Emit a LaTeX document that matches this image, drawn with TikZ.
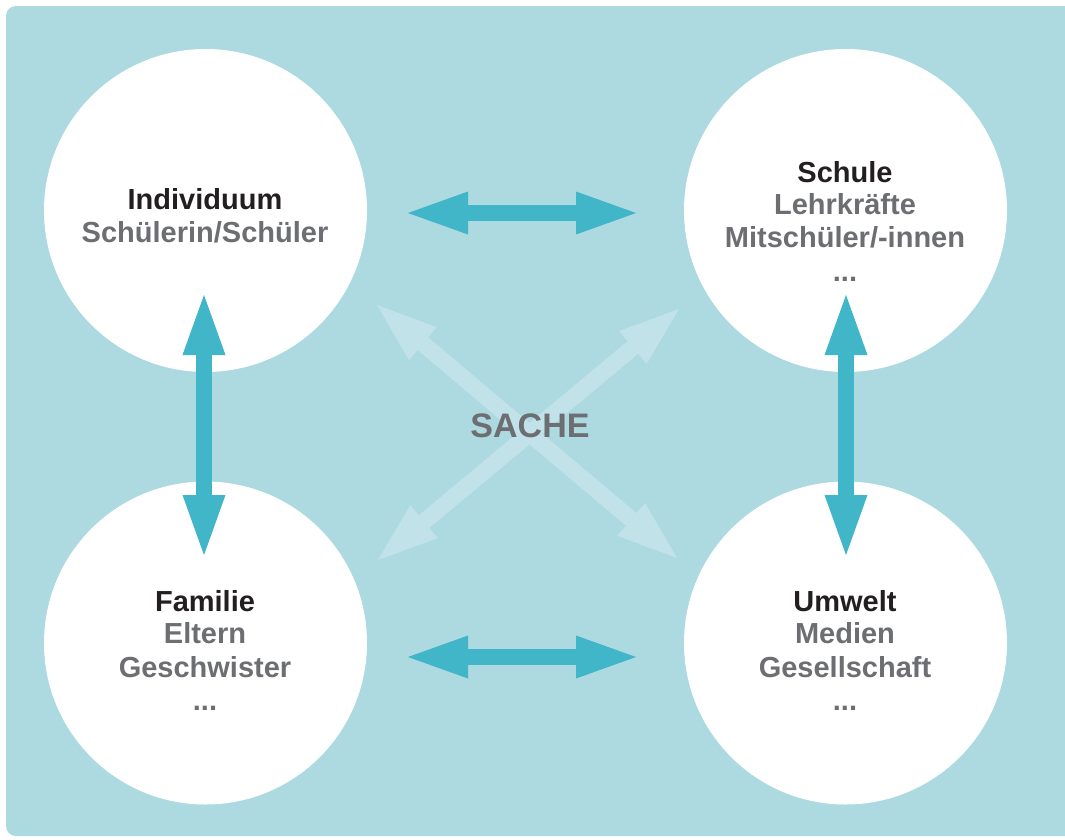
\documentclass[tikz,border=0pt]{standalone}
\usepackage{fontspec}
\setmainfont{Liberation Sans}
\usetikzlibrary{arrows.meta}
\definecolor{bg}{HTML}{ADD9E1}
\definecolor{arr}{HTML}{41B6C8}
\definecolor{larr}{HTML}{C2E2EA}
\definecolor{dark}{HTML}{231F20}
\definecolor{grey}{HTML}{6D6E71}
\tikzset{
 circ/.style={circle, fill=white, minimum size=323pt, inner sep=0pt, draw=none},
 headtxt/.style={font=\bfseries\fontsize{29}{33}\selectfont, text=dark, anchor=base, inner sep=0pt},
 subtxt/.style={headtxt, text=grey},
 dblarrow/.style={line width=16.5pt, draw=arr, {Triangle[length=60pt,width=43pt,line width=0pt]}-{Triangle[length=60pt,width=43pt,line width=0pt]}},
 lightarrow/.style={dblarrow, draw=larr}
}
\begin{document}
\begin{tikzpicture}[x=1pt,y=-1pt]
\useasboundingbox (0,0) rectangle (1065,839);
\fill[white] (0,0) rectangle (1065,839);
\fill[bg, rounded corners=10pt] (6,6) rectangle (1090,836);

% diagonal light arrows
\coordinate (d1a) at (377,305);
\coordinate (d1b) at (677,558);
\coordinate (d2a) at (679,309);
\coordinate (d2b) at (378,560);
\draw[lightarrow] (d1a) -- (d1b);
\draw[lightarrow] (d2a) -- (d2b);

\node[font=\bfseries\fontsize{34}{40}\selectfont, text=grey, anchor=base, inner sep=0pt] (sache) at (530,437) {SACHE};

% circles
\node[circ] (ind) at (205.5,210.5) {};
\node[circ] (sch) at (845.5,210.5) {};
\node[circ] (fam) at (205.5,643) {};
\node[circ] (umw) at (845.5,643) {};

% texts
\node[headtxt] (ind1) at (205,209) {Individuum};
\node[subtxt] (ind2) at (205,242) {Schülerin/Schüler};

\node[headtxt] (sch1) at (845,182) {Schule};
\node[subtxt] (sch2) at (845,214) {Lehrkräfte};
\node[subtxt] (sch3) at (845,247) {Mitschüler/-innen};
\node[subtxt] (sch4) at (845,281) {...};

\node[headtxt] (fam1) at (205,611) {Familie};
\node[subtxt] (fam2) at (205,643) {Eltern};
\node[subtxt] (fam3) at (205,677) {Geschwister};
\node[subtxt] (fam4) at (205,710) {...};

\node[headtxt] (umw1) at (845,611) {Umwelt};
\node[subtxt] (umw2) at (845,643) {Medien};
\node[subtxt] (umw3) at (845,677) {Gesellschaft};
\node[subtxt] (umw4) at (845,710) {...};

% strong arrows
\coordinate (h1a) at (408,213);
\coordinate (h1b) at (636,213);
\coordinate (h2a) at (408,657);
\coordinate (h2b) at (636,657);
\coordinate (v1a) at (204,295);
\coordinate (v1b) at (204,555);
\coordinate (v2a) at (846,295);
\coordinate (v2b) at (846,555);
\draw[dblarrow] (h1a) -- (h1b);
\draw[dblarrow] (h2a) -- (h2b);
\draw[dblarrow] (v1a) -- (v1b);
\draw[dblarrow] (v2a) -- (v2b);
\end{tikzpicture}
\end{document}
